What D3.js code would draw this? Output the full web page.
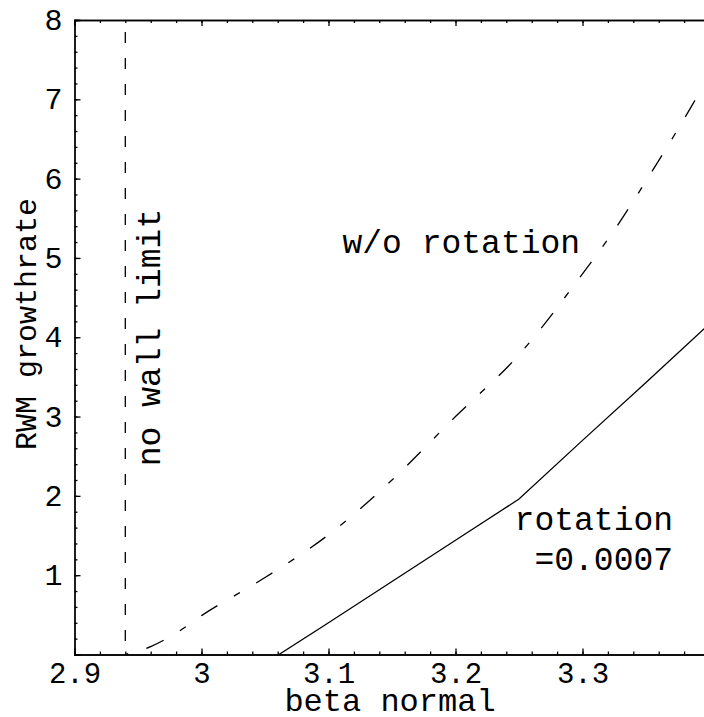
<!DOCTYPE html>
<html>
  <head>
    <script src="https://d3js.org/d3.v7.min.js"></script>
  </head>
  <style>
    body { margin: 0; background: #fff; }
    text { font-family: "Liberation Mono", "DejaVu Sans Mono", monospace; fill: #000; }
    .domain, .tick line { stroke: #000; stroke-width: 1.3; }
  </style>
  <body>
    <svg></svg>
    <script>
      // beta normal values, no-rotation growth rate (dot-dash curve)
      const betaNoRot = [2.94, 2.96, 2.98, 3.0, 3.05, 3.1, 3.15, 3.2, 3.25, 3.3, 3.325, 3.35, 3.375, 3.4];
      const rateNoRot = [0, 0.1, 0.27, 0.49, 0.97, 1.51, 2.2, 3.0, 3.78, 4.8, 5.35, 5.97, 6.62, 7.3];
      // rotation = 0.0007 (solid curve)
      const betaRot = [3.061, 3.1, 3.15, 3.2, 3.25, 3.3, 3.35, 3.4];
      const rateRot = [0, 0.4, 0.92, 1.44, 1.96, 2.7, 3.43, 4.17];
      // no wall limit
      const wallLimit = 2.94;
      const xTicks = [2.9, 3.0, 3.1, 3.2, 3.3];
      const yTicks = [1, 2, 3, 4, 5, 6, 7, 8];

      var svg = d3.select("svg").attr("width", 704).attr("height", 717);

      const x = d3.scaleLinear().domain([2.9, 3.4]).range([74.5, 709.5]);
      const y = d3.scaleLinear().domain([0, 8]).range([654.5, 20]);

      const xMinor = d3.range(2.9, 3.401, 0.02).map(v => +v.toFixed(2));
      const yMinor = d3.range(0, 8.001, 0.2).map(v => +v.toFixed(1));

      // frame with minor ticks (no labels)
      svg.append("g").attr("transform", "translate(0,654.5)")
        .call(d3.axisBottom(x).tickValues(xMinor).tickSize(-3).tickFormat(""));
      svg.append("g").attr("transform", "translate(0,20)")
        .call(d3.axisTop(x).tickValues(xMinor).tickSize(-3).tickFormat(""));
      svg.append("g").attr("transform", "translate(74.5,0)")
        .call(d3.axisLeft(y).tickValues(yMinor).tickSize(-3).tickFormat(""));
      svg.append("g").attr("transform", "translate(709.5,0)")
        .call(d3.axisRight(y).tickValues(yMinor).tickSize(-3).tickFormat(""));

      // major ticks with labels
      const xAxis = svg.append("g").attr("transform", "translate(0,654.5)")
        .call(d3.axisBottom(x).tickValues(xTicks).tickSize(-6)
          .tickFormat(d => String(+d.toFixed(1))));
      xAxis.selectAll("text").style("font-size", "29px").attr("y", 28).attr("dy", 0);
      svg.append("g").attr("transform", "translate(0,20)")
        .call(d3.axisTop(x).tickValues(xTicks).tickSize(-6).tickFormat(""));

      const yAxis = svg.append("g").attr("transform", "translate(74.5,0)")
        .call(d3.axisLeft(y).tickValues(yTicks).tickSize(-6).tickPadding(12)
          .tickFormat(d => String(d)));
      yAxis.selectAll("text").style("font-size", "30px");
      svg.selectAll(".domain").attr("fill", "none");

      // vertical dashed line: no wall limit
      svg.append("line")
        .attr("x1", x(wallLimit)).attr("x2", x(wallLimit))
        .attr("y1", y(8)).attr("y2", y(0))
        .attr("stroke", "#000").attr("stroke-width", 1.3)
        .attr("stroke-dasharray", "11,15").attr("stroke-dashoffset", 14);

      const line = d3.line().x(d => x(d[0])).y(d => y(d[1])).curve(d3.curveMonotoneX);

      svg.append("defs").append("clipPath").attr("id", "clip")
        .append("rect").attr("x", 74.5).attr("y", 20).attr("width", 635).attr("height", 634.5);

      svg.append("path")
        .datum(betaNoRot.map((b, i) => [b, rateNoRot[i]]))
        .attr("clip-path", "url(#clip)")
        .attr("d", line)
        .attr("fill", "none").attr("stroke", "#000").attr("stroke-width", 1.3)
        .attr("stroke-dasharray", "19,19,7,19").attr("stroke-dashoffset", 42);

      svg.append("path")
        .datum(betaRot.map((b, i) => [b, rateRot[i]]))
        .attr("clip-path", "url(#clip)")
        .attr("d", d3.line().x(d => x(d[0])).y(d => y(d[1])))
        .attr("fill", "none").attr("stroke", "#000").attr("stroke-width", 1.3);

      // labels
      svg.append("text").attr("x", 390).attr("y", 711)
        .attr("text-anchor", "middle").style("font-size", "32px").text("beta normal");
      svg.append("text").attr("transform", "translate(36,324) rotate(-90)")
        .attr("text-anchor", "middle").style("font-size", "30px").text("RWM growthrate");
      svg.append("text").attr("transform", "translate(160,337.5) rotate(-90)")
        .attr("text-anchor", "middle").style("font-size", "33px").text("no wall limit");
      svg.append("text").attr("x", x(3.111)).attr("y", y(5.06))
        .style("font-size", "33px").text("w/o rotation");
      svg.append("text").attr("x", x(3.3713)).attr("y", y(1.57))
        .attr("text-anchor", "end").style("font-size", "33px").text("rotation");
      svg.append("text").attr("x", x(3.3713)).attr("y", y(1.07))
        .attr("text-anchor", "end").style("font-size", "33px").text("=0.0007");
    </script>
  </body>
</html>
